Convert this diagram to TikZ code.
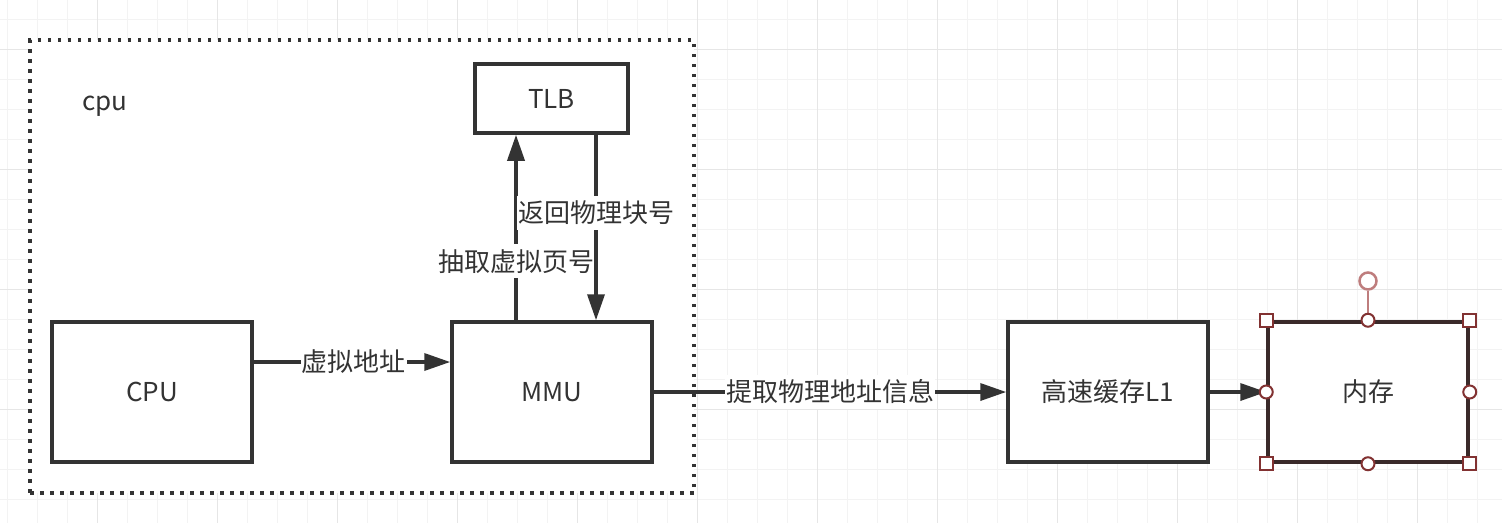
\documentclass[tikz,border=0pt]{standalone}
\usepackage{fontspec}
\setmainfont{Noto Sans CJK SC}
\usetikzlibrary{arrows.meta}
\definecolor{ink}{HTML}{333333}
\definecolor{gridminor}{HTML}{F3F3F3}
\definecolor{gridmajor}{HTML}{E6E6E6}
\definecolor{selred}{RGB}{130,50,50}
\definecolor{rotred}{RGB}{190,125,125}
\begin{document}
\begin{tikzpicture}[x=1pt,y=-1pt,
  txt/.style={text=ink, font=\fontsize{26}{30}\selectfont},
  box/.style={txt, draw=ink, line width=3.5pt, fill=white, inner sep=0pt,
              minimum width=200pt, minimum height=140pt},
  arr/.style={draw=ink, line width=3.5pt, -{Triangle[length=26pt,width=17pt]}},
  lbl/.style={txt, fill=white, inner xsep=1pt, inner ysep=5pt},
  sqh/.style={draw=selred, line width=2pt, fill=white, minimum size=13pt, inner sep=0pt},
  cih/.style={circle, draw=selred, line width=2pt, fill=white, minimum size=13pt, inner sep=0pt},
  roth/.style={circle, draw=rotred, line width=2.5pt, fill=white, minimum size=17pt, inner sep=0pt}
]
\useasboundingbox (0,0) rectangle (1502,523);
\fill[white] (0,0) rectangle (1502,523);
% grid
\foreach \x in {7,37,...,1501} \draw[gridminor, line width=1pt] (\x,0) -- (\x,523);
\foreach \y in {19,49,...,523} \draw[gridminor, line width=1pt] (0,\y) -- (1502,\y);
\foreach \x in {97,217,...,1501} \draw[gridmajor, line width=1pt] (\x,0) -- (\x,523);
\foreach \y in {49,169,...,523} \draw[gridmajor, line width=1pt] (0,\y) -- (1502,\y);
% container
\node[draw=ink, fill=white, line width=3.5pt, dash pattern=on 3.5pt off 6.5pt,
      minimum width=664pt, minimum height=453pt, inner sep=0pt] (cont) at (362,266.5) {};
\node[txt, anchor=base west, inner sep=0pt] (cpulbl) at (82,110) {cpu};
% boxes
\node[box] (cpu) at (152,392) {CPU};
\node[box] (mmu) at (552,392) {MMU};
\node[box, minimum width=153pt, minimum height=69pt] (tlb) at (551.5,98.5) {TLB};
\node[box] (cache) at (1108,392) {高速缓存L1};
\node[box, draw={rgb,255:red,58;green,42;blue,42}] (mem) at (1368,392) {内存};
% connectors
\draw[arr] ([yshift=30pt]cpu.east) -- node[lbl, pos=0.51] {虚拟地址} ([yshift=30pt]mmu.west);
\draw[arr] (mmu.north -| 516,0) -- node[lbl, pos=0.317] {抽取虚拟页号} (tlb.south -| 516,0);
\draw[arr] (tlb.south -| 596,0) -- node[lbl, pos=0.42] {返回物理块号} (mmu.north -| 596,0);
\draw[arr] (mmu.east) -- node[lbl] {提取物理地址信息} (cache.west);
\draw[arr] (cache.east) -- (mem.west);
% selection handles
\node[roth] (rot) at (1368,281) {};
\draw[rotred, line width=2pt] (rot.south) -- (mem.north);
\node[sqh] (h1) at (mem.north west) {};
\node[sqh] (h2) at (mem.north east) {};
\node[sqh] (h3) at (mem.south west) {};
\node[sqh] (h4) at (mem.south east) {};
\node[cih] (h5) at (mem.north) {};
\node[cih] (h6) at (mem.south) {};
\node[cih] (h7) at (mem.west) {};
\node[cih] (h8) at (mem.east) {};
\end{tikzpicture}
\end{document}
